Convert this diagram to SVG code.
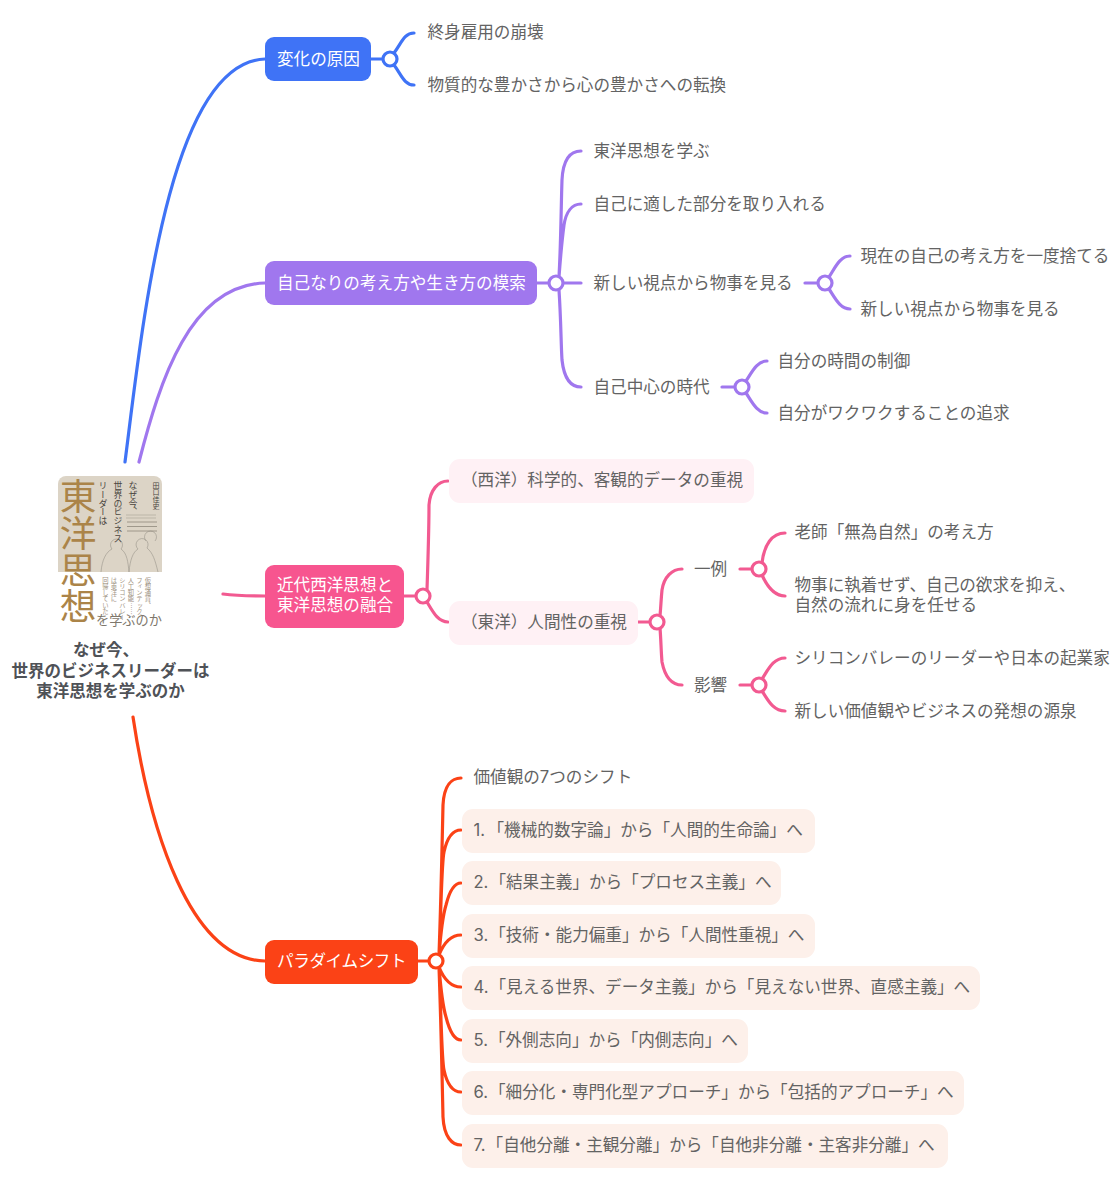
<svg xmlns="http://www.w3.org/2000/svg" width="1113" height="1200" viewBox="0 0 1113 1200">
<style>
text{font-family:"Inter","Noto Sans CJK JP","Noto Sans",sans-serif;font-size:16.6px;fill:#636363}
.w{fill:#fff}
.r{font-weight:700;fill:#4f5257;text-anchor:middle;font-size:16.5px}
.l{fill:none;stroke-width:3.2;stroke-linecap:round}
.h{fill:#fff;stroke-width:3.2}
.b{stroke:#3f73f6}.p{stroke:#a077ee}.k{stroke:#f25a91}.o{stroke:#fb4216}
.pk{fill:#fff1f5}.or{fill:#fdf0ea}
.v{writing-mode:vertical-rl;font-family:"Noto Sans CJK JP",sans-serif}
.c1{font-size:8.9px;fill:#4a463f}
.c2{font-size:6.3px;fill:#9f9483}
</style>
<g id="connectors">
<path class="l b" d="M125 462C142 330 168 62 265 59"/>
<path class="l p" d="M139 462C160 380 190 285 265 283"/>
<path class="l k" d="M223 594C238 596 250 596 265 596"/>
<path class="l o" d="M133 717C150 830 190 960 265 961"/>
<path class="l b" d="M371 59H383M394 53C401 44 404 33 414 33M394 65C401 74 404 85 414 85"/>
<path class="l p" d="M537 283H549M563 283H581M559 277C561 240 561 210 562 180C563 160 570 151 581 151M559 277C561 250 562 240 564 225C566 212 572 204 581 204M559 290C561 320 561 345 562 360C564 378 570 387 581 387M805 283H818M829 277C835 268 840 256 850 256M829 289C835 298 840 309 850 309M722 387H735M746 381C752 372 757 361 767 361M746 393C752 402 757 413 767 413"/>
<path class="l k" d="M404 596H416M427 590C428 560 429 530 429 505C430 490 438 481 448 481M427 602C433 612 438 622 448 622M638 622H650M660 616C661 605 661 600 662 590C664 577 672 569 682 569M660 628C661 640 661 650 662 662C665 677 672 685 682 685M740 569H752M762 563C764 545 772 533 785 533M762 575C766 584 773 596 785 596M740 685H752M762 679C768 670 773 658 785 658M762 691C768 700 773 711 785 711"/>
<path class="l o" d="M417 961H429M439 955C441 900 442 850 443 805C444 785 452 778 461 778M439 955C442 880 442 860 444 852C447 838 453 830 461 830M439 955C441 930 443 915 446 905C449 893 454 883 461 883M439 955C443 945 450 935 461 935M439 967C443 977 450 987 461 987M439 967C441 992 443 1007 446 1017C449 1029 454 1040 461 1040M439 967C442 1042 442 1062 444 1070C447 1084 453 1092 461 1092M439 967C441 1022 442 1072 443 1117C444 1137 452 1145 461 1145"/>
</g>
<g id="hubs">
<circle class="h b" cx="390" cy="59" r="7"/><circle class="h p" cx="556" cy="283" r="7"/><circle class="h p" cx="825" cy="283" r="7"/><circle class="h p" cx="742" cy="387" r="7"/><circle class="h k" cx="423" cy="596" r="7"/><circle class="h k" cx="657" cy="622" r="7"/><circle class="h k" cx="759" cy="569" r="7"/><circle class="h k" cx="759" cy="685" r="7"/><circle class="h o" cx="436" cy="961" r="7"/>
</g>
<g id="root">
<path d="M58 572V484a8 8 0 0 1 8-8h88a8 8 0 0 1 8 8v88z" fill="#dcd4c6"/>
<g fill="none" stroke="#98948a" stroke-width=".6"><path d="M101 572C102 560 106 552 112 549M112 549a6 6 0 1 1 9 0C127 553 128 562 129 572M129 572C130 560 133 552 138 549a6 6 0 1 1 9-1C153 553 155 560 158 572M146 541a6 6 0 1 1 9 0"/></g>
<g stroke="#b0aa9c" stroke-width=".7"><path d="M126 515H156M126 518H156"/></g>
<g stroke="#8f897c" stroke-width=".8"><path d="M127 522H157M127 526.500H157M127 531H157"/></g>
<text class="v" x="78" y="478" style="font-size:36.700px;fill:#ab8449">東洋思想</text>
<text class="v c1" x="103" y="481">リーダーは</text>
<text class="v c1" x="118" y="481">世界のビジネス</text>
<text class="v c1" x="133" y="481">なぜ今、</text>
<text class="v" x="156" y="482" style="font-size:7px;fill:#4a463f">田口佳史</text>
<text class="v c2" x="148" y="577">仮想通貨、</text>
<text class="v c2" x="139.500" y="577">フィンテック、</text>
<text class="v c2" x="131" y="577">人工知能……</text>
<text class="v c2" x="122.500" y="577">シリコンバレー</text>
<text class="v c2" x="114" y="577">は東洋に</text>
<text class="v c2" x="105.500" y="577">回帰していた</text>
<text x="96" y="625" style="font-size:13.200px;fill:#7e776c">を学ぶのか</text>
<text class="r"><tspan x="106" y="656">なぜ今、</tspan><tspan x="110.500" y="677">世界のビジネスリーダーは</tspan><tspan x="110.500" y="697">東洋思想を学ぶのか</tspan></text>
</g>
<g id="n1"><rect x="265" y="37" width="106" height="44" rx="9" fill="#3f73f6"/><text class="w" x="277" y="65">変化の原因</text></g>
<g id="n1a"><text x="427.500" y="38">終身雇用の崩壊</text></g>
<g id="n1b"><text x="427.500" y="91">物質的な豊かさから心の豊かさへの転換</text></g>
<g id="n2"><rect x="265" y="261" width="272" height="44" rx="9" fill="#a077ee"/><text class="w" x="277" y="289">自己なりの考え方や生き方の模索</text></g>
<g id="n2a"><text x="593.500" y="157">東洋思想を学ぶ</text></g>
<g id="n2b"><text x="593.500" y="210">自己に適した部分を取り入れる</text></g>
<g id="n2c"><text x="593.500" y="289">新しい視点から物事を見る</text></g>
<g id="n2c1"><text x="860.500" y="262">現在の自己の考え方を一度捨てる</text></g>
<g id="n2c2"><text x="860.500" y="315">新しい視点から物事を見る</text></g>
<g id="n2d"><text x="593.500" y="393">自己中心の時代</text></g>
<g id="n2d1"><text x="777.500" y="367">自分の時間の制御</text></g>
<g id="n2d2"><text x="777.500" y="419">自分がワクワクすることの追求</text></g>
<g id="n3"><rect x="265" y="565" width="139" height="63" rx="9" fill="#f7558f"/><text class="w"><tspan x="277" y="591">近代西洋思想と</tspan><tspan x="277" y="611">東洋思想の融合</tspan></text></g>
<g id="n3a"><rect x="449" y="459" width="305" height="44" rx="11" class="pk"/><text x="461" y="486">（西洋）科学的、客観的データの重視</text></g>
<g id="n3b"><rect x="449" y="601" width="189" height="44" rx="11" class="pk"/><text x="461" y="628">（東洋）人間性の重視</text></g>
<g id="n3b1"><text x="694" y="575">一例</text></g>
<g id="n3b1a"><text x="794.500" y="538">老師「無為自然」の考え方</text></g>
<g id="n3b1b"><text><tspan x="794.500" y="591">物事に執着せず、自己の欲求を抑え、</tspan><tspan x="794.500" y="611">自然の流れに身を任せる</tspan></text></g>
<g id="n3b2"><text x="694" y="691">影響</text></g>
<g id="n3b2a"><text x="794.500" y="664">シリコンバレーのリーダーや日本の起業家</text></g>
<g id="n3b2b"><text x="794.500" y="717">新しい価値観やビジネスの発想の源泉</text></g>
<g id="n4"><rect x="265" y="940" width="153" height="44" rx="9" fill="#fb4216"/><text class="w" x="277" y="967" style="letter-spacing:-.4px">パラダイムシフト</text></g>
<g id="n4a"><text x="473.500" y="783">価値観の7つのシフト</text></g>
<g id="s1"><rect x="462" y="809" width="353" height="44" rx="11" class="or"/><text x="473.500" y="836">1.<tspan dx="2.500">「機械的数字論」から「人間的生命論」へ</tspan></text></g>
<g id="s2"><rect x="462" y="861" width="319" height="44" rx="11" class="or"/><text x="473.500" y="888">2.<tspan dx="1">「結果主義」から「プロセス主義」へ</tspan></text></g>
<g id="s3"><rect x="462" y="914" width="353" height="44" rx="11" class="or"/><text x="473.500" y="941">3.<tspan dx="1">「技術・能力偏重」から「人間性重視」へ</tspan></text></g>
<g id="s4"><rect x="462" y="966" width="518" height="44" rx="11" class="or"/><text x="473.500" y="993">4.<tspan dx="1">「見える世界、データ主義」から「見えない世界、直感主義」へ</tspan></text></g>
<g id="s5"><rect x="462" y="1019" width="286" height="44" rx="11" class="or"/><text x="473.500" y="1046">5.<tspan dx="1">「外側志向」から「内側志向」へ</tspan></text></g>
<g id="s6"><rect x="462" y="1071" width="502" height="44" rx="11" class="or"/><text x="473.500" y="1098">6.<tspan dx="1">「細分化・専門化型アプローチ」から「包括的アプローチ」へ</tspan></text></g>
<g id="s7"><rect x="462" y="1124" width="486" height="44" rx="11" class="or"/><text x="473.500" y="1151">7.<tspan dx="1">「自他分離・主観分離」から「自他非分離・主客非分離」へ</tspan></text></g>
</svg>
